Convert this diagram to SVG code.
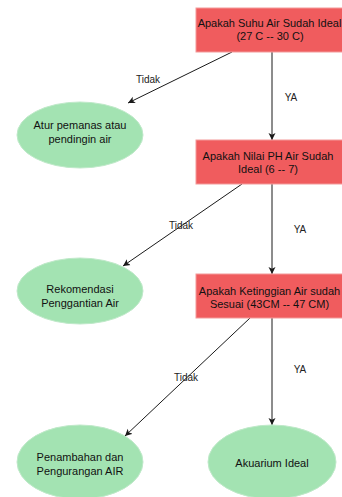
<svg xmlns="http://www.w3.org/2000/svg" width="342" height="497" viewBox="0 0 342 497">
<style>
.box{fill:#f05c5e;stroke:#f39a9a;stroke-width:1}
.ell{fill:#a3e3b2;stroke:#bfe9c9;stroke-width:1}
.t{font-family:"Liberation Sans",Arial,sans-serif;font-size:11px;fill:#111;text-anchor:middle}
.lbl{font-family:"Liberation Sans",Arial,sans-serif;font-size:10px;fill:#222;text-anchor:middle}
.c{stroke:#1a1a1a;stroke-width:1;fill:none;marker-end:url(#arr)}
</style>
<defs>
<marker id="arr" markerWidth="8" markerHeight="8" refX="7" refY="4" orient="auto" markerUnits="userSpaceOnUse">
<path d="M0,0.5 L7,4 L0,7.5 L1.8,4 Z" fill="#1a1a1a"/>
</marker>
</defs>
<g id="connectors">
<line class="c" x1="232" y1="52" x2="128" y2="103"/>
<line class="c" x1="272" y1="52" x2="272" y2="140"/>
<line class="c" x1="242" y1="184" x2="123" y2="266"/>
<line class="c" x1="272" y1="184" x2="272" y2="274"/>
<line class="c" x1="250" y1="318" x2="125" y2="436"/>
<line class="c" x1="272" y1="318" x2="272" y2="425"/>
<text class="lbl" x="148" y="83">Tidak</text>
<text class="lbl" x="291" y="101">YA</text>
<text class="lbl" x="181" y="229">Tidak</text>
<text class="lbl" x="300" y="233">YA</text>
<text class="lbl" x="186" y="381">Tidak</text>
<text class="lbl" x="300" y="373">YA</text>
</g>
<g id="q1">
<rect class="box" x="196" y="8" width="152" height="44"/>
<text class="t" x="269.5" y="27">Apakah Suhu Air Sudah Ideal</text>
<text class="t" x="270" y="40">(27 C -- 30 C)</text>
</g>
<g id="q2">
<rect class="box" x="196" y="140" width="152" height="44"/>
<text class="t" x="268" y="160">Apakah Nilai PH Air Sudah</text>
<text class="t" x="268" y="173">Ideal (6 -- 7)</text>
</g>
<g id="q3">
<rect class="box" x="196" y="274" width="152" height="44"/>
<text class="t" x="269.5" y="295">Apakah Ketinggian Air sudah</text>
<text class="t" x="269.5" y="308">Sesuai (43CM -- 47 CM)</text>
</g>
<g id="e1">
<ellipse class="ell" cx="80" cy="135" rx="63" ry="33"/>
<text class="t" x="80" y="129">Atur pemanas atau</text>
<text class="t" x="80" y="143">pendingin air</text>
</g>
<g id="e2">
<ellipse class="ell" cx="80" cy="291" rx="63" ry="33"/>
<text class="t" x="80" y="293">Rekomendasi</text>
<text class="t" x="80" y="307">Penggantian Air</text>
</g>
<g id="e3">
<ellipse class="ell" cx="80" cy="462" rx="63" ry="37"/>
<text class="t" x="80" y="461">Penambahan dan</text>
<text class="t" x="80" y="475">Pengurangan AIR</text>
</g>
<g id="e4">
<ellipse class="ell" cx="272" cy="462" rx="64" ry="37"/>
<text class="t" x="272" y="467">Akuarium Ideal</text>
</g>
</svg>
